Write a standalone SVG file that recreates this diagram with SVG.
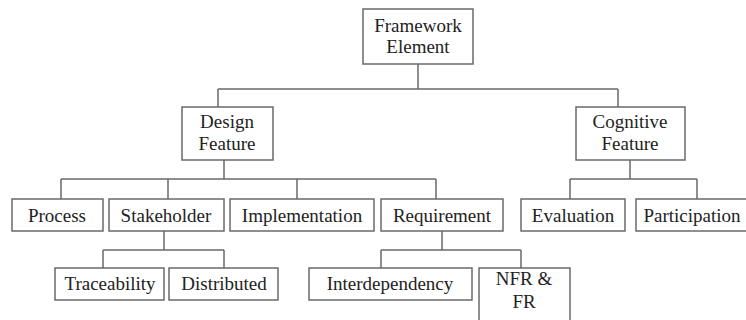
<svg xmlns="http://www.w3.org/2000/svg" width="746" height="320" viewBox="0 0 746 320">
<style>
.box{fill:#fff;stroke:#6a6a6a;stroke-width:1.5}
.ln{fill:none;stroke:#6a6a6a;stroke-width:1.5}
.t{font-family:'Liberation Serif','Times New Roman',serif;font-size:19px;fill:#222;text-anchor:middle}
</style>
<rect width="746" height="320" fill="#fff"/>
<g id="connectors">
<path class="ln" d="M418,64V89M218,89H618M218,89V107M618,89V107"/>
<path class="ln" d="M224,160V179M61,179H436M61,179V199M168,179V199M297,179V199M436,179V199"/>
<path class="ln" d="M630,160V179M570,179H697M570,179V199M697,179V199"/>
<path class="ln" d="M164,231V250M103,250H224M103,250V268M224,250V268"/>
<path class="ln" d="M442,231V250M381,250H521M381,250V268M521,250V268"/>
</g>
<g class="t">
<g id="framework"><rect class="box" x="363" y="9" width="110" height="55"/><text x="418" y="32">Framework</text><text x="418" y="53">Element</text></g>
<g id="design"><rect class="box" x="182" y="107" width="91" height="53"/><text x="227" y="128">Design</text><text x="227" y="150">Feature</text></g>
<g id="cognitive"><rect class="box" x="576" y="107" width="109" height="53"/><text x="630" y="128">Cognitive</text><text x="630" y="150">Feature</text></g>
<g id="process"><rect class="box" x="12" y="199" width="91" height="32"/><text x="57" y="222">Process</text></g>
<g id="stakeholder"><rect class="box" x="109" y="199" width="115" height="32"/><text x="166" y="222">Stakeholder</text></g>
<g id="implementation"><rect class="box" x="230" y="199" width="144" height="32"/><text x="302" y="222">Implementation</text></g>
<g id="requirement"><rect class="box" x="381" y="199" width="122" height="32"/><text x="442" y="222">Requirement</text></g>
<g id="evaluation"><rect class="box" x="521" y="199" width="104" height="32"/><text x="573" y="222">Evaluation</text></g>
<g id="participation"><rect class="box" x="636" y="199" width="114" height="32"/><text x="692" y="222">Participation</text></g>
<g id="traceability"><rect class="box" x="55" y="268" width="109" height="32"/><text x="110" y="290">Traceability</text></g>
<g id="distributed"><rect class="box" x="169" y="268" width="109" height="32"/><text x="224" y="290">Distributed</text></g>
<g id="interdependency"><rect class="box" x="309" y="268" width="163" height="32"/><text x="390" y="290">Interdependency</text></g>
<g id="nfr"><rect class="box" x="479" y="268" width="91" height="60"/><text x="524" y="285">NFR &amp;</text><text x="524" y="308">FR</text></g>
</g>
</svg>
